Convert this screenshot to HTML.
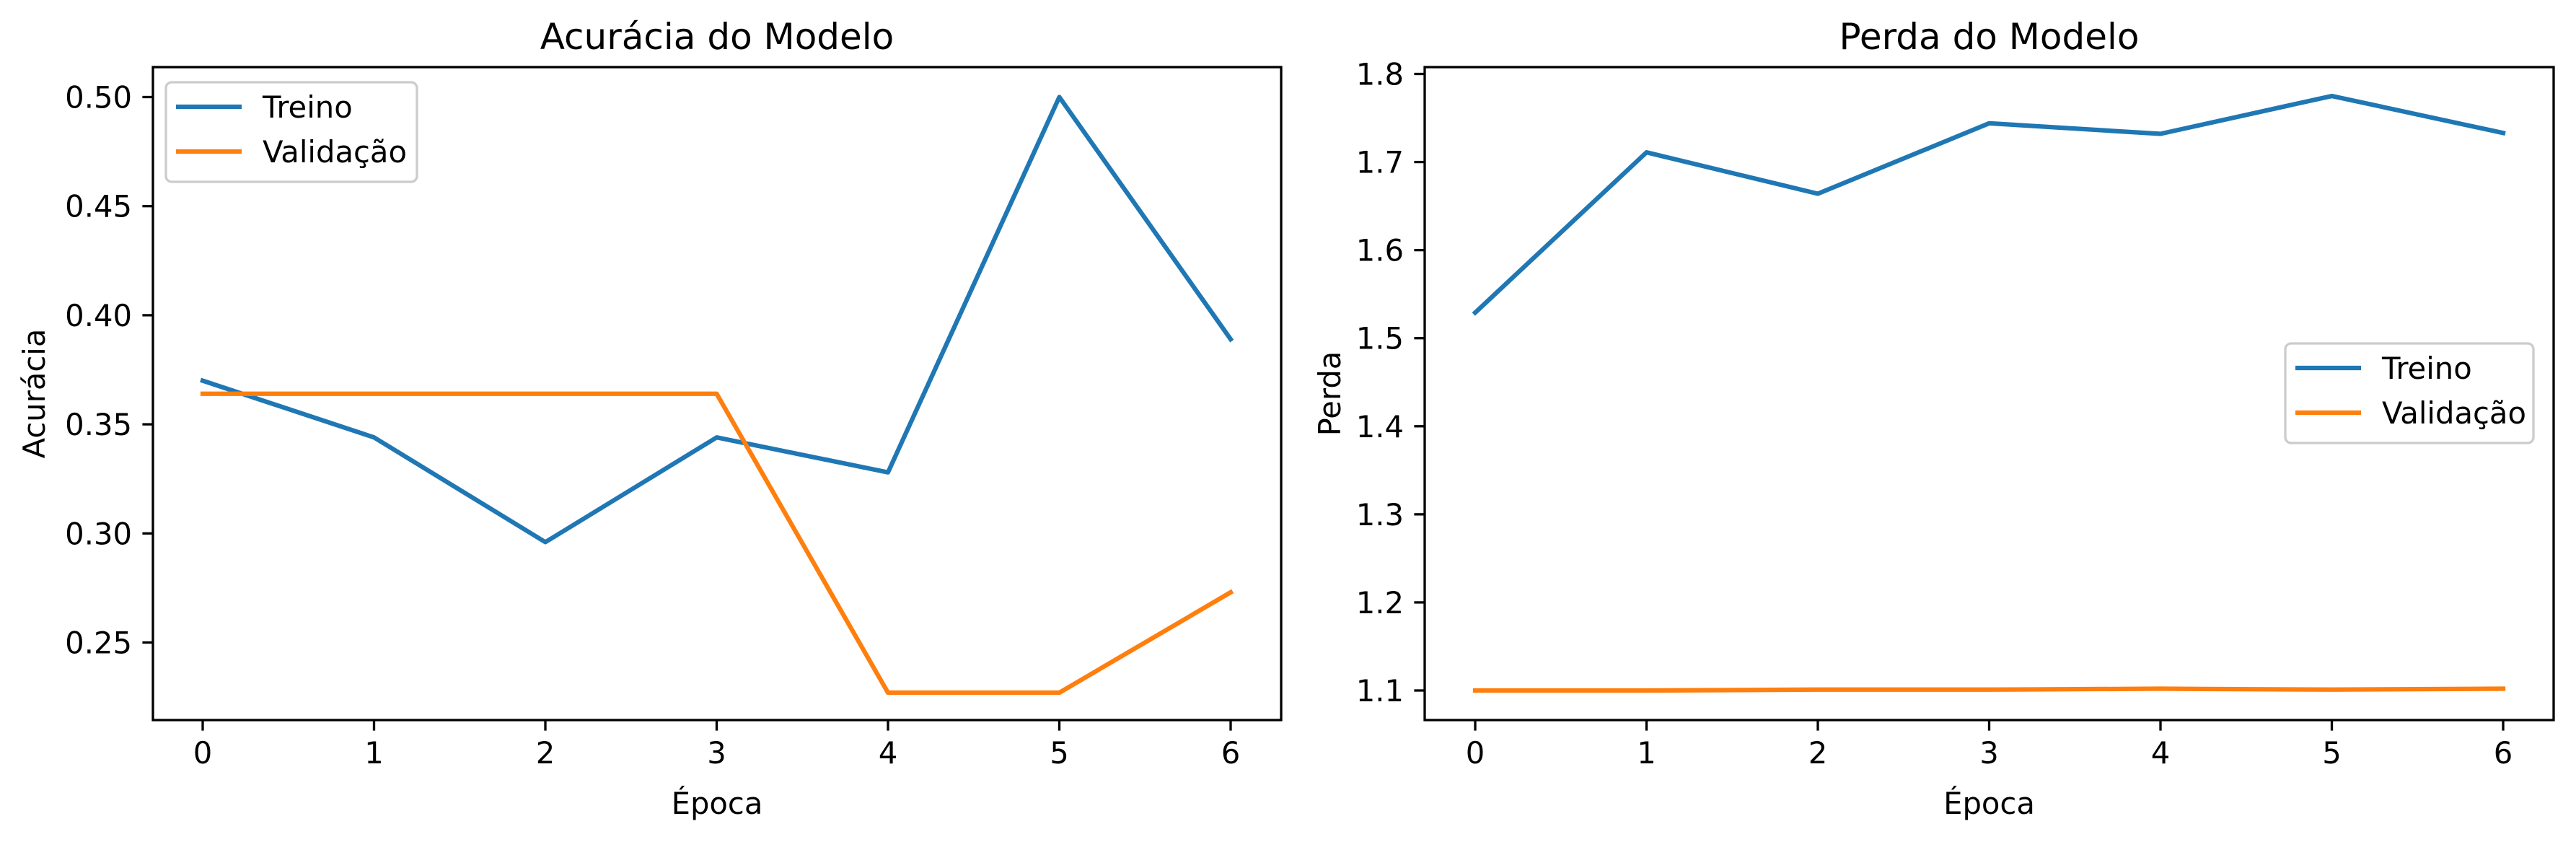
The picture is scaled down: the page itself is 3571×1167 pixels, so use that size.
<!DOCTYPE html>
<html><head><meta charset="utf-8"><style>
html,body{margin:0;padding:0;background:#fff;}
svg{display:block;font-family:"DejaVu Sans","Liberation Sans",sans-serif;}
</style></head><body>
<svg id="fig" width="3571" height="1167" viewBox="0 0 3571 1167" xmlns="http://www.w3.org/2000/svg"></svg>
<script>
const epochs = [0,1,2,3,4,5,6];
const accTrain = [0.370,0.344,0.296,0.344,0.328,0.500,0.389];
const accVal = [0.364,0.364,0.364,0.364,0.227,0.227,0.273];
const lossTrain = [1.529,1.711,1.664,1.744,1.732,1.775,1.733];
const lossVal = [1.100,1.100,1.101,1.101,1.102,1.101,1.102];
const accTicks = [0.25,0.30,0.35,0.40,0.45,0.50];
const accTickLabels = ["0.25","0.30","0.35","0.40","0.45","0.50"];
const lossTicks = [1.1,1.2,1.3,1.4,1.5,1.6,1.7,1.8];
const lossTickLabels = ["1.1","1.2","1.3","1.4","1.5","1.6","1.7","1.8"];
const xTickLabels = ["0","1","2","3","4","5","6"];
const seriesNames = ["Treino","Validação"];

const NS="http://www.w3.org/2000/svg";
const svg=document.getElementById('fig');
function el(tag,attrs,parent,text){const e=document.createElementNS(NS,tag);for(const k in attrs)e.setAttribute(k,attrs[k]);if(text!==undefined)e.textContent=text;(parent||svg).appendChild(e);return e;}

function panel(cfg){
  const g=el('g',{});
  
  
  const L=cfg.L,R=cfg.R,T=93,B=998;
  const xs=v=>cfg.x0+(v-0)*(cfg.x6-cfg.x0)/6;
  const ys=v=>cfg.yA+(v-cfg.vA)*(cfg.yB-cfg.yA)/(cfg.vB-cfg.vA);
  // title
  const t=el('text',{x:(L+R)/2,y:68,'text-anchor':'middle','font-size':50},g,cfg.title);
  
  
  // series
  const cols=['#1f77b4','#ff7f0e'];
  [cfg.s1,cfg.s2].forEach((s,i)=>{
    const p=el('polyline',{points:s.map((v,j)=>xs(epochs[j])+','+ys(v)).join(' '),fill:'none',stroke:cols[i],'stroke-width':6.25,'stroke-linejoin':'round','stroke-linecap':'square'},g);
    
    
  });
  // frame
  const f=el('rect',{x:L,y:T,width:R-L,height:B-T,fill:'none',stroke:'#000','stroke-width':3.3},g);
  
  
  // x ticks
  epochs.forEach((e,i)=>{
    const x=xs(e);
    el('line',{x1:x,x2:x,y1:B,y2:B+14.6,stroke:'#000','stroke-width':3.3},g);
    const tl=el('text',{x:x,y:1058,'text-anchor':'middle','font-size':41.7},g,xTickLabels[i]);
    
    
  });
  // y ticks
  cfg.ticks.forEach((v,i)=>{
    const y=ys(v);
    el('line',{x1:L-14.6,x2:L,y1:y,y2:y,stroke:'#000','stroke-width':3.3},g);
    const tl=el('text',{x:L-29,y:y+15,'text-anchor':'end','font-size':41.7},g,cfg.tickLabels[i]);
    
    
  });
  const xl=el('text',{x:(L+R)/2,y:1128,'text-anchor':'middle','font-size':41.7},g,'Época');
  
  
  const yl=el('text',{x:cfg.ylx,y:(T+B)/2,'text-anchor':'middle','font-size':41.7,transform:`rotate(-90 ${cfg.ylx} ${(T+B)/2})`},g,cfg.ylabel);
  
  
  // legend
  const lg=el('g',{},g);
  
  
  el('rect',{x:cfg.lx,y:cfg.ly,width:cfg.lw,height:138,rx:8,fill:'#fff','fill-opacity':0.8,stroke:'#cccccc','stroke-width':3.3},lg);
  seriesNames.forEach((n,i)=>{
    const yy=cfg.ly+34+i*62;
    el('line',{x1:cfg.lx+14,x2:cfg.lx+105,y1:yy,y2:yy,stroke:cols[i],'stroke-width':6.25},lg);
    const tx=el('text',{x:cfg.lx+134,y:yy+15,'font-size':41.7},lg,n);
    
    
  });
}
panel({name:'accuracy-chart',title:'Acurácia do Modelo',ylabel:'Acurácia',L:212,R:1776,x0:281,x6:1706,vA:0.50,yA:134.5,vB:0.25,yB:890.5,s1:accTrain,s2:accVal,ticks:accTicks,tickLabels:accTickLabels,ylx:62,lx:230,ly:114,lw:348});
panel({name:'loss-chart',title:'Perda do Modelo',ylabel:'Perda',L:1975,R:3540,x0:2045,x6:3470,vA:1.8,yA:102.5,vB:1.1,yB:957,s1:lossTrain,s2:lossVal,ticks:lossTicks,tickLabels:lossTickLabels,ylx:1858,lx:3168,ly:476,lw:344});
</script>
</body></html>
